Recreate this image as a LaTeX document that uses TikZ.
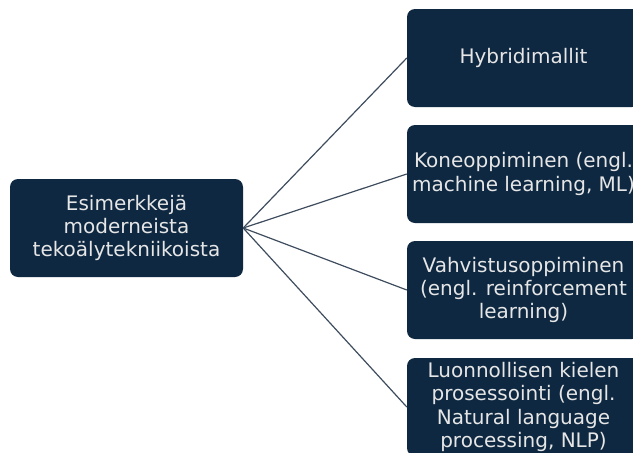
\documentclass[tikz,border=0pt]{standalone}
\usepackage{fontspec}
\setmainfont{DejaVu Sans}
\usepackage{xcolor}
\usepackage{tikz}
\definecolor{boxfill}{HTML}{0E2841}
\definecolor{boxtext}{HTML}{E6E6E6}
\definecolor{link}{HTML}{3E4C5E}
\tikzset{
  topic/.style={fill=boxfill, rounded corners=8pt, minimum width=233pt, minimum height=98pt,
    inner sep=0pt, align=center, text=boxtext, font=\fontsize{20}{23.3}\selectfont},
  branch/.style={topic},
  conn/.style={draw=link, line width=1.2pt}
}

\begin{document}
\begin{tikzpicture}[x=1pt,y=-1pt]
  \useasboundingbox (0,0) rectangle (633,453);
  \clip (0,0) rectangle (633,453);

  \node[topic] (root) at (126.5,228) {Esimerkkejä\\moderneista\\tekoälytekniikoista};

  \node[branch] (hyb) at (523.5,58) {Hybridimallit};
  \node[branch] (ml) at (523.5,174) {Koneoppiminen (engl.\\machine learning, ML)};
  \node[branch] (rl) at (523.5,290) {Vahvistusoppiminen\\(engl. reinforcement\\learning)};
  \node[branch] (nlp) at (523.5,407) {Luonnollisen kielen\\prosessointi (engl.\\Natural language\\processing, NLP)};

  \foreach \b in {hyb,ml,rl,nlp}
    \draw[conn] (root.east) -- (\b.west);
\end{tikzpicture}
\end{document}
